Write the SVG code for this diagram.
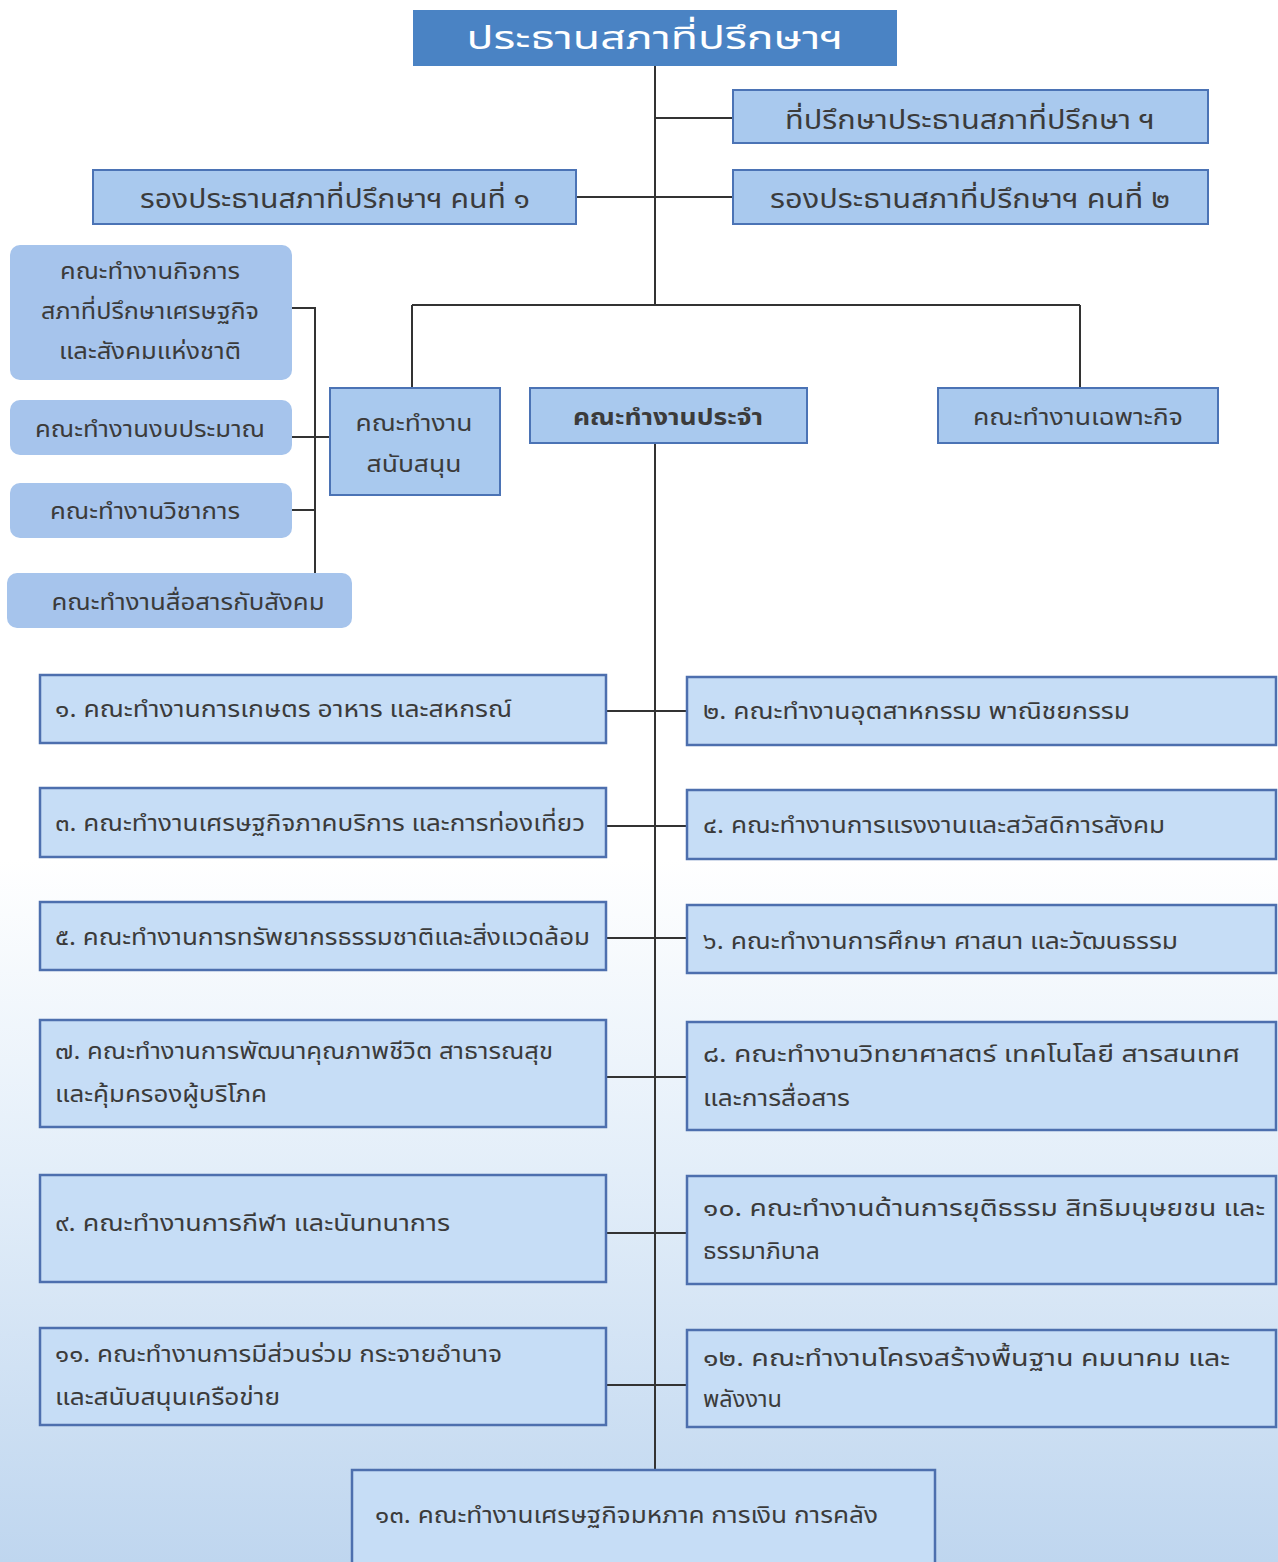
<svg xmlns="http://www.w3.org/2000/svg" width="1278" height="1562" viewBox="0 0 1278 1562">
<defs>
<linearGradient id="bg" x1="0" y1="0" x2="0" y2="1">
<stop offset="0" stop-color="#ffffff"/>
<stop offset="0.55" stop-color="#ffffff"/>
<stop offset="0.75" stop-color="#e3eef9"/>
<stop offset="1" stop-color="#bfd6ef"/>
</linearGradient>
<style>
text{font-family:"Noto Sans Thai","Noto Sans","DejaVu Sans",sans-serif;fill:#3b3b3b;}
.t{fill:#4a83c4;}
.top{fill:#a9c9ee;stroke:#4b73b5;stroke-width:2;}
.side{fill:#a6c4ec;}
.num{fill:#c6ddf6;stroke:#4d6fae;stroke-width:2.5;}
.c{stroke:#333;stroke-width:2;fill:none;}
.s26{font-size:26px;}
.s22{font-size:22px;}
.s23{font-size:23px;}
.b{font-weight:bold;}
</style>
</defs>
<rect width="1278" height="1562" fill="url(#bg)"/>
<g id="connectors">
<path class="c" d="M655 66V305M655 443V1470M655 118H733M576 197H733M412 305H1080M412 305V388M1080 305V388"/>
<path class="c" d="M292 308H315V573M292 437H330M292 510H315"/>
<path class="c" d="M606 711H687M606 826H687M606 938H687M606 1077H687M606 1233H687M606 1385H687"/>
</g>
<g id="n-title"><rect class="t" x="413" y="10" width="484" height="56"/><text x="655" y="49" text-anchor="middle" style="fill:#fff;font-size:32px" textLength="377" lengthAdjust="spacingAndGlyphs">ประธานสภาที่ปรึกษาฯ</text></g>
<g id="n-advisor"><rect class="top" x="733" y="90" width="475" height="53"/><text class="s26" x="970" y="129" text-anchor="middle" textLength="370" lengthAdjust="spacingAndGlyphs">ที่ปรึกษาประธานสภาที่ปรึกษา ฯ</text></g>
<g id="n-vp1"><rect class="top" x="93" y="170" width="483" height="54"/><text class="s26" x="335" y="208" text-anchor="middle" textLength="390" lengthAdjust="spacingAndGlyphs">รองประธานสภาที่ปรึกษาฯ คนที่ ๑</text></g>
<g id="n-vp2"><rect class="top" x="733" y="170" width="475" height="54"/><text class="s26" x="970" y="208" text-anchor="middle" textLength="400" lengthAdjust="spacingAndGlyphs">รองประธานสภาที่ปรึกษาฯ คนที่ ๒</text></g>
<g id="n-affairs"><rect class="side" x="10" y="245" width="282" height="135" rx="10"/>
<text class="s23" x="150" y="279" text-anchor="middle" textLength="180" lengthAdjust="spacingAndGlyphs">คณะทำงานกิจการ</text>
<text class="s23" x="150" y="319" text-anchor="middle" textLength="218" lengthAdjust="spacingAndGlyphs">สภาที่ปรึกษาเศรษฐกิจ</text>
<text class="s23" x="150" y="359" text-anchor="middle" textLength="182" lengthAdjust="spacingAndGlyphs">และสังคมแห่งชาติ</text></g>
<g id="n-budget"><rect class="side" x="10" y="400" width="282" height="55" rx="10"/><text class="s23" x="150" y="437" text-anchor="middle" textLength="230" lengthAdjust="spacingAndGlyphs">คณะทำงานงบประมาณ</text></g>
<g id="n-academic"><rect class="side" x="10" y="483" width="282" height="55" rx="10"/><text class="s23" x="145" y="519" text-anchor="middle" textLength="190" lengthAdjust="spacingAndGlyphs">คณะทำงานวิชาการ</text></g>
<g id="n-comm"><rect class="side" x="7" y="573" width="345" height="55" rx="10"/><text class="s23" x="188" y="610" text-anchor="middle" textLength="273" lengthAdjust="spacingAndGlyphs">คณะทำงานสื่อสารกับสังคม</text></g>
<g id="n-support"><rect class="top" x="330" y="388" width="170" height="107"/>
<text class="s23" x="414" y="431" text-anchor="middle" textLength="117" lengthAdjust="spacingAndGlyphs">คณะทำงาน</text>
<text class="s23" x="414" y="472" text-anchor="middle" textLength="95" lengthAdjust="spacingAndGlyphs">สนับสนุน</text></g>
<g id="n-standing"><rect class="top" x="530" y="388" width="277" height="55"/><text class="s23 b" x="668" y="425" text-anchor="middle" textLength="190" lengthAdjust="spacingAndGlyphs">คณะทำงานประจำ</text></g>
<g id="n-special"><rect class="top" x="938" y="388" width="280" height="55"/><text class="s23" x="1078" y="425" text-anchor="middle" textLength="210" lengthAdjust="spacingAndGlyphs">คณะทำงานเฉพาะกิจ</text></g>
<g id="n1"><rect class="num" x="40" y="675" width="566" height="68"/><text class="s23" x="55" y="717" textLength="457" lengthAdjust="spacingAndGlyphs">๑. คณะทำงานการเกษตร อาหาร และสหกรณ์</text></g>
<g id="n2"><rect class="num" x="687" y="677" width="589" height="68"/><text class="s23" x="703" y="719" textLength="427" lengthAdjust="spacingAndGlyphs">๒. คณะทำงานอุตสาหกรรม พาณิชยกรรม</text></g>
<g id="n3"><rect class="num" x="40" y="788" width="566" height="69"/><text class="s23" x="55" y="831" textLength="530" lengthAdjust="spacingAndGlyphs">๓. คณะทำงานเศรษฐกิจภาคบริการ และการท่องเที่ยว</text></g>
<g id="n4"><rect class="num" x="687" y="790" width="589" height="69"/><text class="s23" x="703" y="833" textLength="462" lengthAdjust="spacingAndGlyphs">๔. คณะทำงานการแรงงานและสวัสดิการสังคม</text></g>
<g id="n5"><rect class="num" x="40" y="902" width="566" height="68"/><text class="s23" x="55" y="945" textLength="535" lengthAdjust="spacingAndGlyphs">๕. คณะทำงานการทรัพยากรธรรมชาติและสิ่งแวดล้อม</text></g>
<g id="n6"><rect class="num" x="687" y="905" width="589" height="68"/><text class="s23" x="703" y="949" textLength="475" lengthAdjust="spacingAndGlyphs">๖. คณะทำงานการศึกษา ศาสนา และวัฒนธรรม</text></g>
<g id="n7"><rect class="num" x="40" y="1020" width="566" height="107"/>
<text class="s23" x="55" y="1059" textLength="498" lengthAdjust="spacingAndGlyphs">๗. คณะทำงานการพัฒนาคุณภาพชีวิต สาธารณสุข</text>
<text class="s23" x="55" y="1102" textLength="212" lengthAdjust="spacingAndGlyphs">และคุ้มครองผู้บริโภค</text></g>
<g id="n8"><rect class="num" x="687" y="1022" width="589" height="108"/>
<text class="s23" x="703" y="1062" textLength="537" lengthAdjust="spacingAndGlyphs">๘. คณะทำงานวิทยาศาสตร์ เทคโนโลยี สารสนเทศ</text>
<text class="s23" x="703" y="1106" textLength="147" lengthAdjust="spacingAndGlyphs">และการสื่อสาร</text></g>
<g id="n9"><rect class="num" x="40" y="1175" width="566" height="107"/><text class="s23" x="55" y="1231" textLength="395" lengthAdjust="spacingAndGlyphs">๙. คณะทำงานการกีฬา และนันทนาการ</text></g>
<g id="n10"><rect class="num" x="687" y="1176" width="589" height="108"/>
<text class="s23" x="703" y="1216" textLength="562" lengthAdjust="spacingAndGlyphs">๑๐. คณะทำงานด้านการยุติธรรม สิทธิมนุษยชน และ</text>
<text class="s23" x="703" y="1259" textLength="117" lengthAdjust="spacingAndGlyphs">ธรรมาภิบาล</text></g>
<g id="n11"><rect class="num" x="40" y="1328" width="566" height="97"/>
<text class="s23" x="55" y="1362" textLength="447" lengthAdjust="spacingAndGlyphs">๑๑. คณะทำงานการมีส่วนร่วม กระจายอำนาจ</text>
<text class="s23" x="55" y="1405" textLength="225" lengthAdjust="spacingAndGlyphs">และสนับสนุนเครือข่าย</text></g>
<g id="n12"><rect class="num" x="687" y="1330" width="589" height="97"/>
<text class="s23" x="703" y="1366" textLength="527" lengthAdjust="spacingAndGlyphs">๑๒. คณะทำงานโครงสร้างพื้นฐาน คมนาคม และ</text>
<text class="s23" x="703" y="1407" textLength="79" lengthAdjust="spacingAndGlyphs">พลังงาน</text></g>
<g id="n13"><rect class="num" x="352" y="1470" width="583" height="110"/><text class="s23" x="375" y="1523" textLength="503" lengthAdjust="spacingAndGlyphs">๑๓. คณะทำงานเศรษฐกิจมหภาค การเงิน การคลัง</text></g>
</svg>
